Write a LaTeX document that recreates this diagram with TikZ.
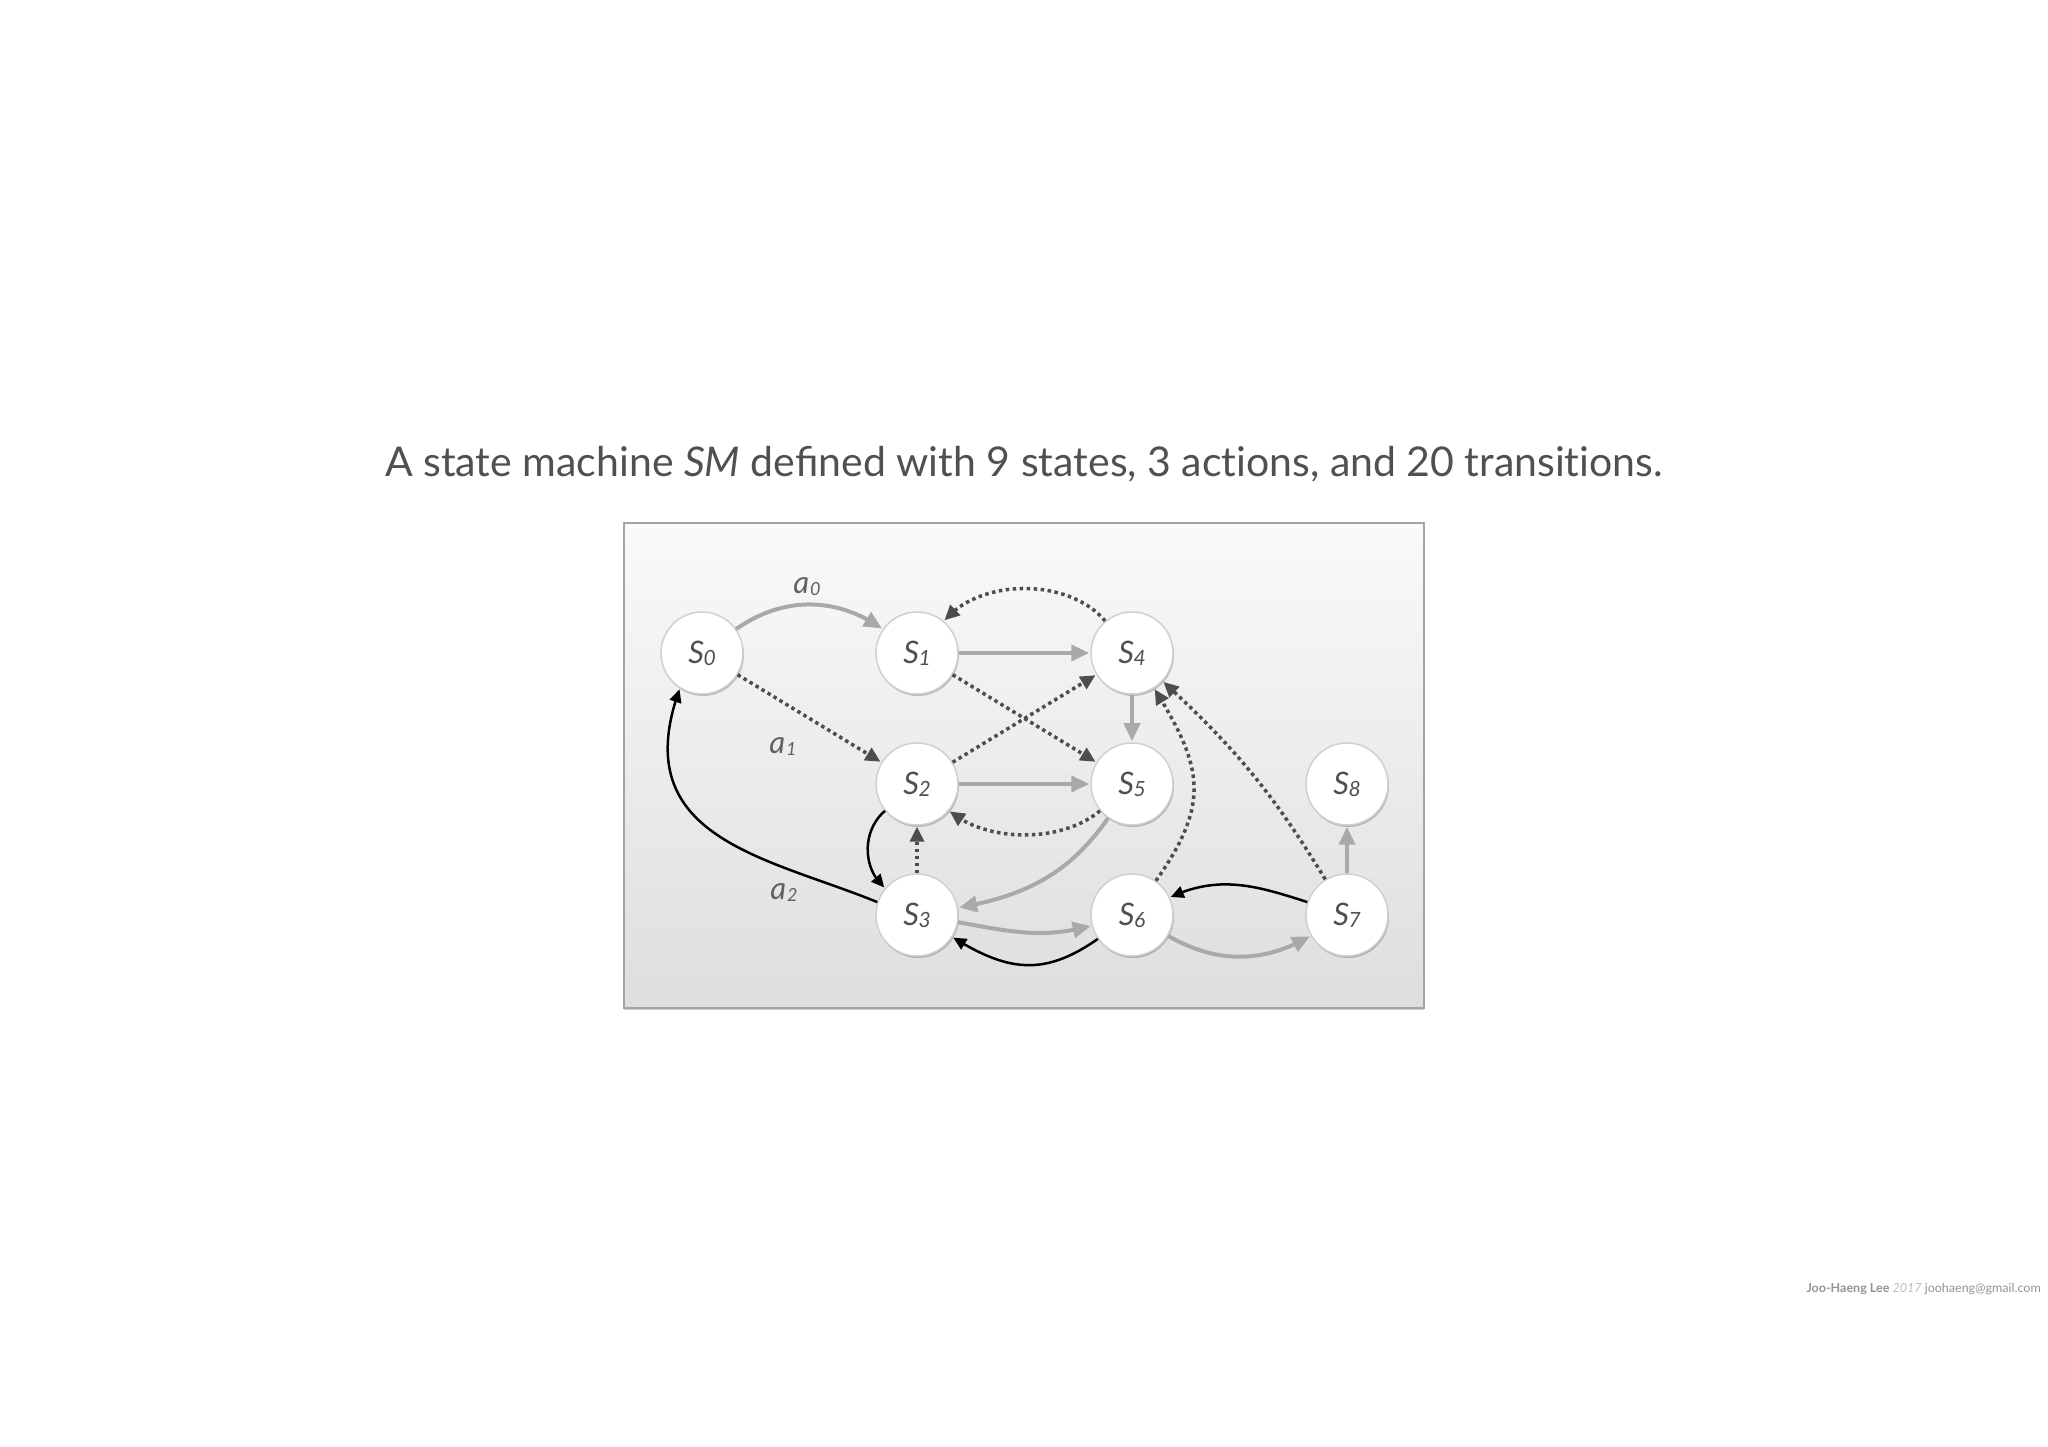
\documentclass[tikz,border=0pt]{standalone}
\usepackage{fontspec}
\setmainfont{Lato}
\usetikzlibrary{arrows.meta,shadows,bending}

\definecolor{txt}{HTML}{505050}
\definecolor{edgegray}{HTML}{A9A9A9}
\definecolor{dotgray}{HTML}{4D4D4D}
\definecolor{rimgray}{HTML}{D0D0D0}
\definecolor{panelrim}{HTML}{A4A4A4}

\newcommand{\stlabel}[1]{\textit{S}\kern-0.5pt\raisebox{-2pt}{\fontsize{21}{21}\selectfont\textit{#1}}}
\newcommand{\actlabel}[1]{\textit{a}\kern1pt\raisebox{-2pt}{\fontsize{18}{18}\selectfont\textit{#1}}}

\begin{document}
\begin{tikzpicture}[x=1pt,y=1pt,
  state/.style={circle, minimum size=82pt, inner sep=0pt, fill=white, draw=rimgray, line width=1.5pt,
    drop shadow={shadow xshift=1pt, shadow yshift=-2pt, opacity=0.22, fill=black},
    text=txt, font=\fontsize{31}{31}\selectfont},
  grayedge/.style={draw=edgegray, line width=4pt, -{Triangle[length=18pt,width=16pt]}, shorten >=1pt},
  dotedge/.style={draw=dotgray, line width=3.5pt, dash pattern=on 3.5pt off 3.5pt, -{Triangle[length=15pt,width=14pt]}, shorten >=1pt},
  blackedge/.style={draw=black, line width=2.5pt, -{Triangle[length=13pt,width=12pt]}, shorten >=1pt},
  act/.style={text=black!62, font=\fontsize{31}{31}\selectfont, inner sep=0pt}
]
\useasboundingbox[fill=white] (0,0) rectangle (2048,1447);

% title
\node[text=txt, font=\fontsize{41}{41}\selectfont, anchor=base, inner sep=0pt] (title) at (1024,970)
  {A state machine \textit{SM} defined with 9 states, 3 act\kern0pt ions, and 20 transit\kern0pt ions.};

% panel
\node[draw=panelrim, line width=2pt, minimum width=800pt, minimum height=485pt, inner sep=0pt,
  top color=black!2, bottom color=black!13,
  drop shadow={shadow xshift=0pt, shadow yshift=-2pt, opacity=0.18, fill=black}] (panel) at (1024,681.5) {};

% states
\node[state] (s0) at (702,794) {\stlabel{0}};
\node[state] (s1) at (917,794) {\stlabel{1}};
\node[state] (s4) at (1132,794) {\stlabel{4}};
\node[state] (s2) at (917,663) {\stlabel{2}};
\node[state] (s5) at (1132,663) {\stlabel{5}};
\node[state] (s8) at (1347,663) {\stlabel{8}};
\node[state] (s3) at (917,532) {\stlabel{3}};
\node[state] (s6) at (1132,532) {\stlabel{6}};
\node[state] (s7) at (1347,532) {\stlabel{7}};

% action labels
\node[act] (la0) at (807,860) {\actlabel{0}};
\node[act] (la1) at (783,700) {\actlabel{1}};
\node[act] (la2) at (784,554) {\actlabel{2}};

% transitions
\draw[grayedge] (s0) to[out=35,in=145] (s1);
\draw[dotedge] (s0) -- (s2);
\draw[blackedge] (s3.162) .. controls +(-110,45) and +(-55,-150) .. (s0.-122);
\draw[grayedge] (s1) -- (s4);
\draw[dotedge] (s1) -- (s5);
\draw[dotedge] (s4) to[out=130,in=50,looseness=0.9] (s1);
\draw[dotedge] (s2) -- (s4);
\draw[grayedge] (s2) -- (s5);
\draw[dotedge] (s5) to[out=220,in=-40,looseness=0.85] (s2);
\draw[grayedge] (s4) -- (s5);
\draw[grayedge] (s5) to[out=235,in=10] (s3);
\draw[blackedge] (s2) to[out=220,in=140] (s3);
\draw[dotedge] (s3) -- (s2);
\draw[grayedge] (s3) to[out=-10,in=195] (s6);
\draw[blackedge] (s6) to[out=215,in=-32,looseness=1.15] (s3);
\draw[dotedge] (s6) to[out=55,in=-58,looseness=1.25] (s4);
\draw[dotedge] (s7) to[bend right=8] (s4);
\draw[blackedge] (s7) to[out=162,in=25] (s6);
\draw[grayedge] (s6) to[out=-30,in=-150] (s7);
\draw[grayedge] (s7) -- (s8);

% footer
\node[anchor=base east, inner sep=0pt, font=\fontsize{12.5}{12.5}\selectfont] (foot) at (2041,154)
  {\textcolor{black!42}{\textbf{Joo-Haeng Lee}} \textcolor{black!25}{\textit{2017}} \textcolor{black!42}{joohaeng@gmail.com}};
\end{tikzpicture}
\end{document}
